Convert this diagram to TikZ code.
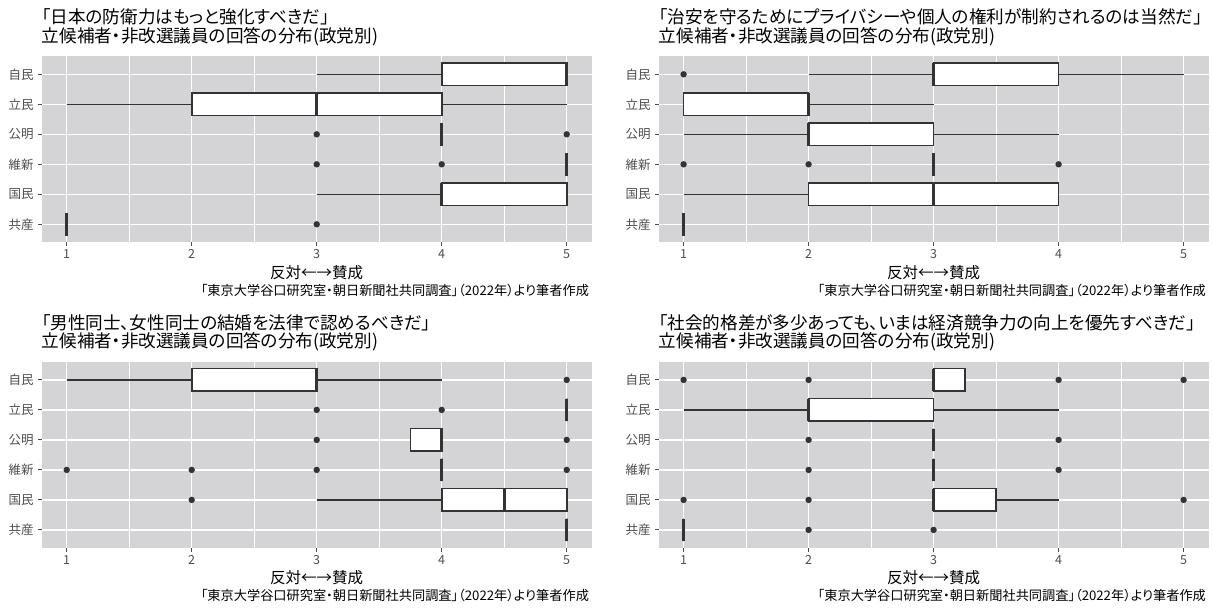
\documentclass[tikz,border=0pt]{standalone}
\usepackage{fontspec}
\setmainfont{Noto Sans CJK JP}[RawFeature={+palt}]
\definecolor{panelbg}{RGB}{212,212,214}
\definecolor{ink}{RGB}{51,51,51}
\definecolor{axtext}{RGB}{77,77,77}
\begin{document}
\begin{tikzpicture}[x=1pt,y=-1pt,
  panelat/.style 2 args={shift={(#1-58.3,#2+44.3)},x=125pt,y=-30pt},
  whisk/.style={ink,line width=1.5pt},
  boxrect/.style={ink,fill=white,line width=1.6pt},
  med/.style={ink,line width=3pt},
  pnt/.style={ink,fill=ink},
  axlab/.style={font=\fontsize{12.5}{13}\selectfont,text=axtext,inner sep=0pt},
  ttl/.style={font=\fontsize{17.6}{18}\selectfont,anchor=west,inner sep=0pt},
  xttl/.style={font=\fontsize{15.5}{16}\selectfont,inner sep=0pt},
  srcnote/.style={font=\fontsize{13.2}{14}\selectfont,anchor=east,inner sep=0pt}]
\useasboundingbox (0,0) rectangle (1213,608);
% panels: background, grid, axes, texts
\foreach \px/\py/\ttltext in {0/0/{「日本の防衛力はもっと強化すべきだ」},
  616.9/0/{「治安を守るためにプライバシーや個人の権利が制約されるのは当然だ」},
  0/305.6/{「男性同士、女性同士の結婚を法律で認めるべきだ」},
  616.9/305.6/{「社会的格差が多少あっても、いまは経済競争力の向上を優先すべきだ」}}{
\begin{scope}[panelat={\px}{\py}]
\fill[panelbg] (0.8,0.4) rectangle (5.2,6.6);
\foreach \x in {1.5,2.5,3.5,4.5}
	\draw[white,line width=0.6pt] (\x,0.4)--(\x,6.6);
\foreach \x in {1,...,5}
	\draw[white,line width=1.4pt] (\x,0.4)--(\x,6.6);
\foreach \r in {1,...,6}
	\draw[white,line width=1.4pt] (0.8,\r)--(5.2,\r);
\foreach \x in {1,...,5}{
	\draw[axtext,line width=1pt] (\x,6.6)--++(0,-4pt) node[axlab,anchor=north,yshift=-3pt] (xl\x) {\x};}
\foreach \r/\party in {1/自民,2/立民,3/公明,4/維新,5/国民,6/共産}{
	\draw[axtext,line width=1pt] (0.8,\r)--++(-4pt,0) node[axlab,anchor=east,xshift=-3.5pt] (yl\r) {\party};}
\node[ttl] (title1) at ([yshift=39.3pt]0.8,0.4) {\ttltext};
\node[ttl] (title2) at ([yshift=19.8pt]0.8,0.4) {立候補者・非改選議員の回答の分布(政党別)};
\node[xttl] (xtitle) at ([yshift=-30.2pt]3,6.6) {反対←→賛成};
\node[srcnote] (source) at ([yshift=-47.7pt]5.18,6.6) {「東京大学谷口研究室・朝日新聞社共同調査」（2022年）より筆者作成};
\end{scope}}

% defence
\begin{scope}[panelat={0}{0}]
\foreach \r/\lo/\qa/\md/\qb/\hi in {1/3/4/5/5/5,2/1/2/3/4/5,3/4/4/4/4/4,4/5/5/5/5/5,5/3/4/4/5/5,6/1/1/1/1/1}{
	\draw[whisk] (\lo,\r)--(\qa,\r) (\qb,\r)--(\hi,\r);
	\draw[boxrect] (\qa,\r-0.375) rectangle (\qb,\r+0.375);
	\draw[med] (\md,\r-0.375)--(\md,\r+0.375);}
\foreach \r/\v in {3/3,3/5,4/3,4/4,6/3}
	\fill[pnt] (\v,\r) circle (3.2pt);
\end{scope}

% privacy
\begin{scope}[panelat={616.9}{0}]
\foreach \r/\lo/\qa/\md/\qb/\hi in {1/2/3/3/4/5,2/1/1/2/2/3,3/1/2/2/3/4,4/3/3/3/3/3,5/1/2/3/4/4,6/1/1/1/1/1}{
	\draw[whisk] (\lo,\r)--(\qa,\r) (\qb,\r)--(\hi,\r);
	\draw[boxrect] (\qa,\r-0.375) rectangle (\qb,\r+0.375);
	\draw[med] (\md,\r-0.375)--(\md,\r+0.375);}
\foreach \r/\v in {1/1,4/1,4/2,4/4}
	\fill[pnt] (\v,\r) circle (3.2pt);
\end{scope}

% marriage
\begin{scope}[panelat={0}{305.6}]
\foreach \r/\lo/\qa/\md/\qb/\hi in {1/1/2/3/3/4,2/5/5/5/5/5,3/3.75/3.75/4/4/4,4/4/4/4/4/4,5/3/4/4.5/5/5,6/5/5/5/5/5}{
	\draw[whisk] (\lo,\r)--(\qa,\r) (\qb,\r)--(\hi,\r);
	\draw[boxrect] (\qa,\r-0.375) rectangle (\qb,\r+0.375);
	\draw[med] (\md,\r-0.375)--(\md,\r+0.375);}
\foreach \r/\v in {1/5,2/3,2/4,3/3,3/5,4/1,4/2,4/3,4/5,5/2}
	\fill[pnt] (\v,\r) circle (3.2pt);
\end{scope}

% economy
\begin{scope}[panelat={616.9}{305.6}]
\foreach \r/\lo/\qa/\md/\qb/\hi in {1/3/3/3/3.25/3.25,2/1/2/2/3/4,3/3/3/3/3/3,4/3/3/3/3/3,5/3/3/3/3.5/4,6/1/1/1/1/1}{
	\draw[whisk] (\lo,\r)--(\qa,\r) (\qb,\r)--(\hi,\r);
	\draw[boxrect] (\qa,\r-0.375) rectangle (\qb,\r+0.375);
	\draw[med] (\md,\r-0.375)--(\md,\r+0.375);}
\foreach \r/\v in {1/1,1/2,1/4,1/5,3/2,3/4,4/2,4/4,5/1,5/2,5/5,6/2,6/3}
	\fill[pnt] (\v,\r) circle (3.2pt);
\end{scope}
\end{tikzpicture}
\end{document}
